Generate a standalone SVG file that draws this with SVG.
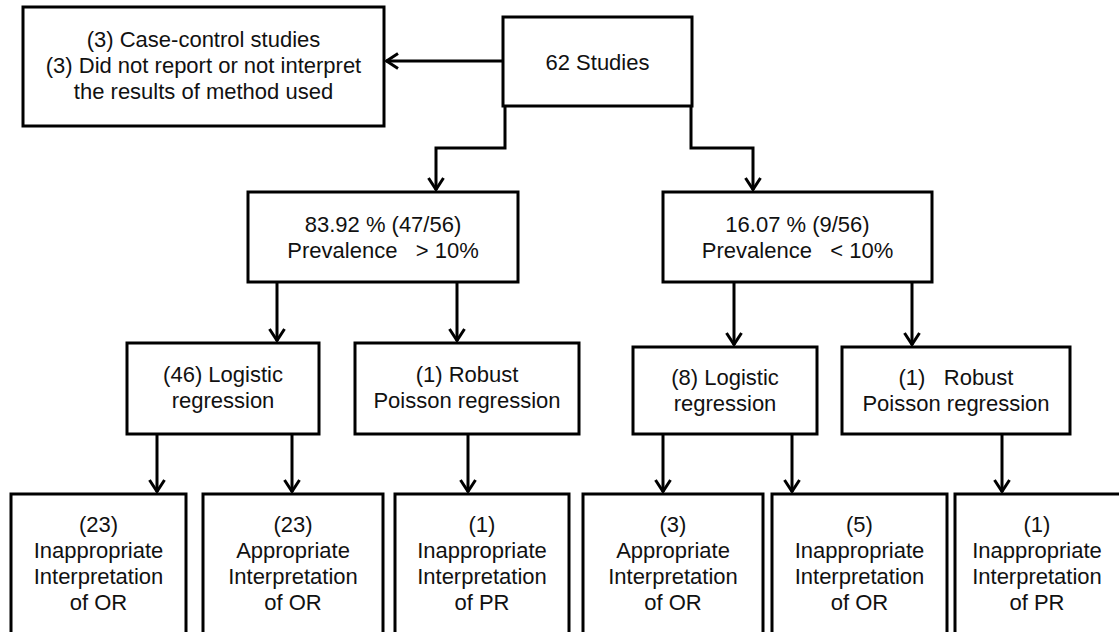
<svg xmlns="http://www.w3.org/2000/svg" width="1119" height="632" viewBox="0 0 1119 632">
  <style>
    .box { fill: #ffffff; stroke: #000000; stroke-width: 3; }
    .lbl { font-family: "Liberation Sans", Arial, sans-serif; font-size: 22px; fill: #111111; text-anchor: middle; }
    .conn { fill: none; stroke: #000000; stroke-width: 3; stroke-linejoin: miter; }
  </style>
  <defs>
    <marker id="arr" viewBox="0 0 14 18" refX="13" refY="9" markerWidth="14" markerHeight="18" markerUnits="userSpaceOnUse" orient="auto">
      <path d="M1,1.5 L12.5,9 L1,16.5" fill="none" stroke="#000000" stroke-width="3"/>
    </marker>
  </defs>
  <rect width="1119" height="632" fill="#ffffff"/>

  <g id="connectors">
    <path class="conn" d="M503,61 L386,61" marker-end="url(#arr)"/>
    <path class="conn" d="M505,106 L505,148 L436,148 L436,190" marker-end="url(#arr)"/>
    <path class="conn" d="M691,106 L691,148 L753,148 L753,190" marker-end="url(#arr)"/>
    <path class="conn" d="M277,282 L277,341" marker-end="url(#arr)"/>
    <path class="conn" d="M457,282 L457,341" marker-end="url(#arr)"/>
    <path class="conn" d="M734,282 L734,345" marker-end="url(#arr)"/>
    <path class="conn" d="M912,282 L912,345" marker-end="url(#arr)"/>
    <path class="conn" d="M157,434 L157,492" marker-end="url(#arr)"/>
    <path class="conn" d="M292,434 L292,492" marker-end="url(#arr)"/>
    <path class="conn" d="M468,434 L468,492" marker-end="url(#arr)"/>
    <path class="conn" d="M663,434 L663,492" marker-end="url(#arr)"/>
    <path class="conn" d="M792,434 L792,492" marker-end="url(#arr)"/>
    <path class="conn" d="M1002,434 L1002,492" marker-end="url(#arr)"/>
  </g>

  <g id="excluded">
    <rect class="box" x="23" y="7" width="361" height="119"/>
    <text class="lbl" x="203.5" y="47">(3) Case-control studies</text>
    <text class="lbl" x="203.5" y="73">(3) Did not report or not interpret</text>
    <text class="lbl" x="203.5" y="99">the results of method used</text>
  </g>

  <g id="studies">
    <rect class="box" x="503" y="17" width="189" height="89"/>
    <text class="lbl" x="597.5" y="70">62 Studies</text>
  </g>

  <g id="prev-high">
    <rect class="box" x="248" y="192" width="270" height="90"/>
    <text class="lbl" x="383" y="232">83.92 % (47/56)</text>
    <text class="lbl" x="383" y="258" xml:space="preserve">Prevalence   &gt; 10%</text>
  </g>

  <g id="prev-low">
    <rect class="box" x="663" y="192" width="269" height="90"/>
    <text class="lbl" x="797.5" y="232">16.07 % (9/56)</text>
    <text class="lbl" x="797.5" y="258" xml:space="preserve">Prevalence   &lt; 10%</text>
  </g>

  <g id="logistic-high">
    <rect class="box" x="127" y="343" width="192" height="91"/>
    <text class="lbl" x="223" y="382">(46) Logistic</text>
    <text class="lbl" x="223" y="408">regression</text>
  </g>

  <g id="poisson-high">
    <rect class="box" x="355" y="343" width="224" height="91"/>
    <text class="lbl" x="467" y="382">(1) Robust</text>
    <text class="lbl" x="467" y="408">Poisson regression</text>
  </g>

  <g id="logistic-low">
    <rect class="box" x="633" y="347" width="184" height="87"/>
    <text class="lbl" x="725" y="385">(8) Logistic</text>
    <text class="lbl" x="725" y="411">regression</text>
  </g>

  <g id="poisson-low">
    <rect class="box" x="842" y="347" width="228" height="87"/>
    <text class="lbl" x="956" y="385" xml:space="preserve">(1)   Robust</text>
    <text class="lbl" x="956" y="411">Poisson regression</text>
  </g>

  <g id="out1">
    <rect class="box" x="11" y="494" width="175" height="146"/>
    <text class="lbl" x="98.5" y="532">(23)</text>
    <text class="lbl" x="98.5" y="558">Inappropriate</text>
    <text class="lbl" x="98.5" y="584">Interpretation</text>
    <text class="lbl" x="98.5" y="610">of OR</text>
  </g>

  <g id="out2">
    <rect class="box" x="203" y="494" width="180" height="146"/>
    <text class="lbl" x="293" y="532">(23)</text>
    <text class="lbl" x="293" y="558">Appropriate</text>
    <text class="lbl" x="293" y="584">Interpretation</text>
    <text class="lbl" x="293" y="610">of OR</text>
  </g>

  <g id="out3">
    <rect class="box" x="395" y="494" width="174" height="146"/>
    <text class="lbl" x="482" y="532">(1)</text>
    <text class="lbl" x="482" y="558">Inappropriate</text>
    <text class="lbl" x="482" y="584">Interpretation</text>
    <text class="lbl" x="482" y="610">of PR</text>
  </g>

  <g id="out4">
    <rect class="box" x="583" y="494" width="180" height="146"/>
    <text class="lbl" x="673" y="532">(3)</text>
    <text class="lbl" x="673" y="558">Appropriate</text>
    <text class="lbl" x="673" y="584">Interpretation</text>
    <text class="lbl" x="673" y="610">of OR</text>
  </g>

  <g id="out5">
    <rect class="box" x="772" y="494" width="175" height="146"/>
    <text class="lbl" x="859.5" y="532">(5)</text>
    <text class="lbl" x="859.5" y="558">Inappropriate</text>
    <text class="lbl" x="859.5" y="584">Interpretation</text>
    <text class="lbl" x="859.5" y="610">of OR</text>
  </g>

  <g id="out6">
    <rect class="box" x="955" y="494" width="175" height="146"/>
    <text class="lbl" x="1037" y="532">(1)</text>
    <text class="lbl" x="1037" y="558">Inappropriate</text>
    <text class="lbl" x="1037" y="584">Interpretation</text>
    <text class="lbl" x="1037" y="610">of PR</text>
  </g>
</svg>
